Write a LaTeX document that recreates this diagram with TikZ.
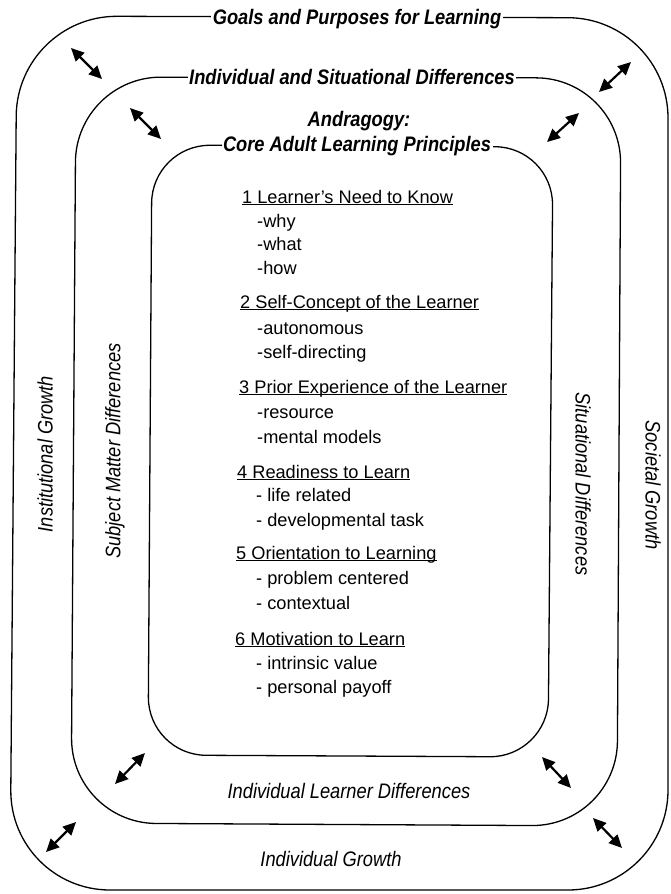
\documentclass[tikz,border=0pt]{standalone}
\usepackage{fontspec}
\setmainfont{Liberation Sans}
\newfontfamily\condfont[FakeStretch=0.87]{Liberation Sans}
\usetikzlibrary{arrows.meta}
\newcommand\ulhead[1]{\setbox0\hbox{#1}\rlap{\rule[-2.4pt]{\wd0}{1.1pt}}\box0}
\begin{document}
\begin{tikzpicture}[x=1pt,y=-1pt,
  frame/.style={line width=1.3pt, rounded corners=#1},
  title/.style={font=\condfont\bfseries\itshape\fontsize{21}{25}\selectfont, fill=white, inner xsep=1.5pt, inner ysep=1pt, anchor=base},
  sidelabel/.style={font=\condfont\itshape\fontsize{21}{25}\selectfont, inner sep=0pt},
  head/.style={font=\fontsize{18.2}{21}\selectfont, anchor=base west, inner sep=0pt},
  item/.style={font=\fontsize{18.2}{21}\selectfont, anchor=base west, inner sep=0pt},
  dbl/.style={line width=2.2pt, {Triangle[length=13pt,width=12pt]}-{Triangle[length=13pt,width=12pt]}}
]
\useasboundingbox (0,0) rectangle (671,894);

% frames
\draw[frame=100pt] (340,17) -- (668,18) -- (668,890) -- (10,890) -- (17,16) -- cycle;
\draw[frame=85pt] (350,77.5) -- (621,78) -- (617,826) -- (71,823) -- (76,77) -- cycle;
\draw[frame=58pt] (350,146) -- (553,147) -- (548,757) -- (148,755) -- (152,145) -- cycle;

% titles
\node[title] (goals) at (357,24) {Goals and Purposes for Learning};
\node[title] (indsit) at (352,84) {Individual and Situational Differences};
\node[title, fill=none] (andra) at (359,126) {Andragogy:};
\node[title] (core) at (357,151) {Core Adult Learning Principles};

% side labels
\node[sidelabel, rotate=90] (inst) at (45,454) {Institutional Growth};
\node[sidelabel, rotate=90] (subj) at (115,451) {Subject Matter Differences};
\node[sidelabel, rotate=-90] (situ) at (583,484) {Situational Differences};
\node[sidelabel, rotate=-90] (soc) at (653,485) {Societal Growth};
\node[sidelabel, anchor=base] (indlearn) at (349,798) {Individual Learner Differences};
\node[sidelabel, anchor=base] (indgrow) at (331,866) {Individual Growth};

% principles
\node[head] (h1) at (242,203) {\ulhead{1 Learner's Need to Know}};
\node[item] (h1a) at (257,227) {-why};
\node[item] (h1b) at (257,250) {-what};
\node[item] (h1c) at (257,274) {-how};
\node[head] (h2) at (240,308) {\ulhead{2 Self-Concept of the Learner}};
\node[item] (h2a) at (257,334) {-autonomous};
\node[item] (h2b) at (257,358) {-self-directing};
\node[head] (h3) at (239,393) {\ulhead{3 Prior Experience of the Learner}};
\node[item] (h3a) at (257,418) {-resource};
\node[item] (h3b) at (257,443) {-mental models};
\node[head] (h4) at (237,478) {\ulhead{4 Readiness to Learn}};
\node[item] (h4a) at (256,501) {- life related};
\node[item] (h4b) at (256,526) {- developmental task};
\node[head] (h5) at (236,559) {\ulhead{5 Orientation to Learning}};
\node[item] (h5a) at (256,584) {- problem centered};
\node[item] (h5b) at (256,609) {- contextual};
\node[head] (h6) at (235,645) {\ulhead{6 Motivation to Learn}};
\node[item] (h6a) at (256,669) {- intrinsic value};
\node[item] (h6b) at (256,693) {- personal payoff};

% arrows
\coordinate (a1s) at (71,48);   \coordinate (a1e) at (102,79);
\coordinate (a2s) at (631,62);  \coordinate (a2e) at (599,92);
\coordinate (a3s) at (130,108); \coordinate (a3e) at (161,139);
\coordinate (a4s) at (579,113); \coordinate (a4e) at (547,142);
\coordinate (a5s) at (145,753); \coordinate (a5e) at (115,784);
\coordinate (a6s) at (542,757); \coordinate (a6e) at (571,788);
\coordinate (a7s) at (76,822);  \coordinate (a7e) at (46,852);
\coordinate (a8s) at (593,818); \coordinate (a8e) at (622,848);
\foreach \i in {1,...,8} \draw[dbl] (a\i s) -- (a\i e);
\end{tikzpicture}
\end{document}
